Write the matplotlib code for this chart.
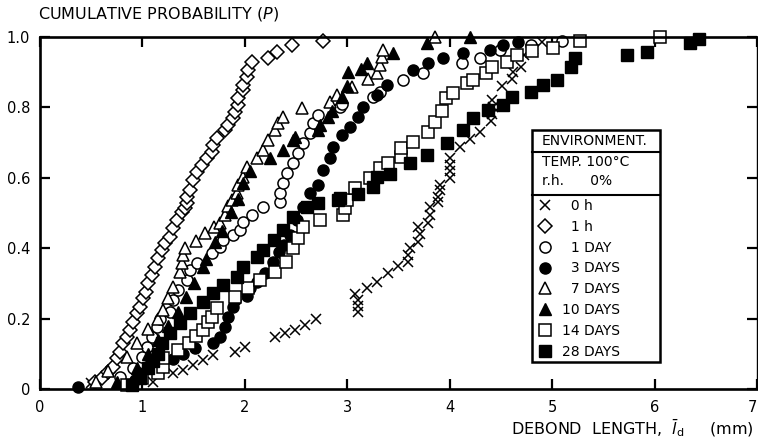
import matplotlib
matplotlib.use("Agg")
import matplotlib.pyplot as plt
from matplotlib.patches import Rectangle
from matplotlib.lines import Line2D

# ---------------- data ----------------
x_0h = [0.50, 1.10, 1.30, 1.40, 1.49, 1.59, 1.69, 1.90, 2.00, 2.29, 2.39, 2.49, 2.59, 2.69,
        3.10, 3.10, 3.10, 3.08, 3.19, 3.29, 3.40, 3.50, 3.59, 3.59, 3.61, 3.69, 3.71, 3.69,
        3.79, 3.81, 3.81, 3.89, 3.89, 3.91, 3.91, 4.00, 4.00, 4.00, 4.00, 4.10, 4.20, 4.30,
        4.40, 4.41, 4.42, 4.41, 4.51, 4.61, 4.62, 4.70, 4.73, 4.81, 4.90]
y_0h = [0.017, 0.02, 0.045, 0.054, 0.068, 0.082, 0.097, 0.105, 0.12, 0.148, 0.159, 0.168, 0.182, 0.20,
        0.22, 0.235, 0.253, 0.27, 0.287, 0.304, 0.33, 0.35, 0.361, 0.38, 0.40, 0.418, 0.44, 0.46,
        0.472, 0.494, 0.517, 0.531, 0.545, 0.565, 0.58, 0.60, 0.62, 0.636, 0.656, 0.688, 0.71, 0.73,
        0.76, 0.78, 0.80, 0.82, 0.86, 0.88, 0.90, 0.915, 0.95, 0.965, 0.985]

x_1h = [0.54, 0.61, 0.66, 0.71, 0.75, 0.78, 0.81, 0.85, 0.88, 0.91, 0.95, 0.98, 1.01, 1.03, 1.05,
        1.09, 1.12, 1.15, 1.19, 1.22, 1.27, 1.30, 1.34, 1.39, 1.42, 1.44, 1.44, 1.46, 1.49, 1.53,
        1.58, 1.63, 1.68, 1.69, 1.73, 1.81, 1.84, 1.88, 1.90, 1.93, 1.93, 1.98, 1.98, 2.02, 2.03,
        2.07, 2.23, 2.31, 2.46, 2.76]
y_1h = [0.02, 0.031, 0.048, 0.063, 0.088, 0.105, 0.131, 0.148, 0.168, 0.19, 0.216, 0.233, 0.259, 0.276, 0.301,
        0.324, 0.347, 0.372, 0.395, 0.415, 0.432, 0.457, 0.48, 0.503, 0.515, 0.528, 0.545, 0.565, 0.594, 0.616,
        0.636, 0.656, 0.673, 0.693, 0.713, 0.736, 0.75, 0.77, 0.787, 0.807, 0.827, 0.849, 0.864, 0.886, 0.906,
        0.929, 0.94, 0.957, 0.977, 0.99]

x_1d = [0.78, 0.91, 1.00, 1.04, 1.09, 1.14, 1.17, 1.27, 1.30, 1.35, 1.44, 1.46, 1.53, 1.68, 1.76,
        1.79, 1.88, 1.95, 1.98, 2.07, 2.18, 2.34, 2.34, 2.37, 2.41, 2.47, 2.52, 2.57, 2.64, 2.67,
        2.71, 2.93, 2.95, 3.25, 3.32, 3.54, 3.74, 4.12, 4.30, 4.49, 4.79, 5.10]
y_1d = [0.034, 0.06, 0.091, 0.119, 0.148, 0.176, 0.20, 0.219, 0.253, 0.281, 0.31, 0.338, 0.358, 0.386, 0.403,
        0.423, 0.437, 0.452, 0.474, 0.494, 0.517, 0.531, 0.557, 0.585, 0.614, 0.642, 0.67, 0.699, 0.727, 0.756,
        0.778, 0.80, 0.81, 0.83, 0.844, 0.878, 0.898, 0.926, 0.94, 0.963, 0.977, 0.99]

x_3d = [0.37, 0.93, 0.97, 1.30, 1.40, 1.51, 1.69, 1.76, 1.81, 1.84, 1.88, 1.90, 2.02, 2.05, 2.12,
        2.20, 2.27, 2.33, 2.38, 2.44, 2.51, 2.57, 2.64, 2.71, 2.76, 2.83, 2.86, 2.95, 3.03, 3.10,
        3.15, 3.29, 3.39, 3.64, 3.79, 3.93, 4.13, 4.39, 4.52, 4.67]
y_3d = [0.006, 0.025, 0.045, 0.085, 0.10, 0.116, 0.13, 0.148, 0.176, 0.205, 0.233, 0.253, 0.265, 0.287, 0.304,
        0.33, 0.36, 0.39, 0.41, 0.437, 0.48, 0.517, 0.557, 0.58, 0.622, 0.656, 0.688, 0.722, 0.744, 0.773,
        0.80, 0.835, 0.864, 0.906, 0.926, 0.94, 0.955, 0.963, 0.977, 0.986]

x_7d = [0.55, 0.66, 0.85, 0.95, 1.05, 1.15, 1.20, 1.25, 1.30, 1.37, 1.39, 1.40, 1.42, 1.52, 1.61,
        1.70, 1.76, 1.81, 1.84, 1.87, 1.92, 1.93, 1.98, 2.02, 2.12, 2.18, 2.23, 2.29, 2.32, 2.37,
        2.56, 2.83, 2.90, 3.05, 3.20, 3.29, 3.32, 3.34, 3.35, 3.86]
y_7d = [0.02, 0.05, 0.09, 0.13, 0.17, 0.20, 0.224, 0.259, 0.29, 0.332, 0.358, 0.38, 0.40, 0.42, 0.443,
        0.46, 0.472, 0.494, 0.52, 0.537, 0.557, 0.58, 0.602, 0.63, 0.656, 0.68, 0.707, 0.736, 0.756, 0.773,
        0.798, 0.815, 0.835, 0.858, 0.88, 0.898, 0.92, 0.943, 0.963, 1.0]

x_10d = [0.75, 0.95, 1.05, 1.15, 1.25, 1.35, 1.43, 1.50, 1.59, 1.62, 1.71, 1.78, 1.86, 1.93, 1.98,
         2.05, 2.25, 2.37, 2.47, 2.49, 2.71, 2.73, 2.81, 2.85, 2.95, 3.00, 3.01, 3.13, 3.19, 3.45,
         3.78, 4.20]
y_10d = [0.02, 0.06, 0.10, 0.14, 0.18, 0.22, 0.26, 0.30, 0.347, 0.37, 0.418, 0.45, 0.503, 0.54, 0.585,
         0.62, 0.656, 0.68, 0.707, 0.716, 0.736, 0.75, 0.773, 0.79, 0.83, 0.86, 0.90, 0.91, 0.926, 0.955,
         0.983, 1.0]

x_14d = [0.85, 1.00, 1.15, 1.20, 1.20, 1.35, 1.45, 1.52, 1.59, 1.64, 1.68, 1.73, 1.90, 2.03, 2.15,
         2.29, 2.40, 2.47, 2.52, 2.57, 2.73, 2.96, 2.98, 3.00, 3.08, 3.22, 3.32, 3.40, 3.52, 3.52,
         3.64, 3.79, 3.86, 3.92, 3.96, 4.03, 4.17, 4.23, 4.35, 4.41, 4.56, 4.66, 4.80, 5.01, 5.27, 6.05]
y_14d = [0.01, 0.03, 0.045, 0.063, 0.088, 0.11, 0.13, 0.15, 0.168, 0.19, 0.205, 0.23, 0.26, 0.287, 0.31,
         0.332, 0.36, 0.40, 0.43, 0.46, 0.48, 0.494, 0.515, 0.537, 0.571, 0.60, 0.628, 0.642, 0.659, 0.685,
         0.702, 0.73, 0.759, 0.79, 0.827, 0.84, 0.87, 0.878, 0.898, 0.915, 0.929, 0.949, 0.96, 0.969, 0.99, 1.0]

x_28d = [0.90, 0.98, 1.05, 1.10, 1.15, 1.19, 1.27, 1.37, 1.46, 1.59, 1.69, 1.79, 1.92, 1.98, 2.12,
         2.18, 2.28, 2.37, 2.47, 2.61, 2.71, 2.91, 2.93, 3.10, 3.25, 3.29, 3.42, 3.61, 3.78, 3.97,
         4.13, 4.23, 4.37, 4.52, 4.61, 4.79, 4.91, 5.05, 5.18, 5.22, 5.73, 5.93, 6.35, 6.43]
y_28d = [0.01, 0.03, 0.06, 0.08, 0.10, 0.13, 0.159, 0.188, 0.216, 0.247, 0.273, 0.295, 0.318, 0.347, 0.375,
         0.395, 0.423, 0.452, 0.489, 0.517, 0.528, 0.537, 0.543, 0.555, 0.574, 0.602, 0.612, 0.642, 0.665, 0.699,
         0.736, 0.77, 0.793, 0.807, 0.83, 0.844, 0.864, 0.878, 0.915, 0.94, 0.949, 0.957, 0.983, 0.995]

labels = ["\u20070 h", "\u20071 h", "\u20071 DAY", "\u20073 DAYS", "\u20077 DAYS",
          "10 DAYS", "14 DAYS", "28 DAYS"]
header_lines = ["ENVIRONMENT.", "TEMP. 100\u00b0C", "r.h.      0%"]
x_ticks = [0, 1, 2, 3, 4, 5, 6, 7]
y_ticks = [0, 0.2, 0.4, 0.6, 0.8, 1.0]
y_tick_labels = ["0", "0.2", "0.4", "0.6", "0.8", "1.0"]

# ---------------- figure ----------------
plt.rcParams['font.family'] = ['DejaVu Sans']
W, H = 758, 443
fig = plt.figure(figsize=(W / 100, H / 100), dpi=100)
ax = fig.add_axes([40 / W, 1 - 389 / H, 717 / W, 352 / H])

K = 'black'
series = [
    (x_0h, y_0h, dict(marker='x', ms=7, mew=1.1, mec=K, mfc='none')),
    (x_1h, y_1h, dict(marker='D', ms=7.5, mew=1.1, mec=K, mfc='white')),
    (x_1d, y_1d, dict(marker='o', ms=8.0, mew=1.1, mec=K, mfc='white')),
    (x_3d, y_3d, dict(marker='o', ms=8.0, mew=1.0, mec=K, mfc=K)),
    (x_7d, y_7d, dict(marker='^', ms=8.4, mew=1.1, mec=K, mfc='white')),
    (x_10d, y_10d, dict(marker='^', ms=8.4, mew=1.0, mec=K, mfc=K)),
    (x_14d, y_14d, dict(marker='s', ms=8.0, mew=1.1, mec=K, mfc='white')),
    (x_28d, y_28d, dict(marker='s', ms=8.0, mew=1.0, mec=K, mfc=K)),
]
handles = []
for (xs, ys, st), lab in zip(series, labels):
    h, = ax.plot(xs, ys, linestyle='none', label=lab, clip_on=False, **st)
    handles.append(h)

ax.set_xlim(0, 7)
ax.set_ylim(0, 1.0)
ax.set_xticks(x_ticks)
ax.set_xticklabels([str(t) for t in x_ticks])
ax.set_yticks(y_ticks)
ax.set_yticklabels(y_tick_labels)
ax.tick_params(direction='in', length=7, width=1.6, top=True, right=True,
               labelsize=10.5, colors=K)
ax.tick_params(axis='x', pad=8)
ax.tick_params(axis='y', pad=7)
ax.get_xticklabels()[-1].set_horizontalalignment('right')
for side in ['left', 'bottom', 'top']:
    ax.spines[side].set_linewidth(1.9)
ax.spines['right'].set_linewidth(1.0)

# titles
fig.text(38 / W, 1 - 14 / H, r"CUMULATIVE PROBABILITY ($\mathit{P}$)", ha='left', va='center',
         fontsize=11.5)
fig.text(754 / W, 1 - 428 / H, r"DEBOND  LENGTH,  $\bar{l}_{\mathrm{d}}$     (mm)", ha='right',
         va='center', fontsize=11.5)

# legend box
bx0, bx1 = (532 - 40) / 717, (660 - 40) / 717
by0, by1 = (389 - 362) / 352, (389 - 130) / 352
ax.add_patch(Rectangle((bx0, by0), bx1 - bx0, by1 - by0, transform=ax.transAxes,
                       fill=True, facecolor='white', edgecolor=K, lw=1.8, zorder=5))
for yl in [(389 - 152) / 352, (389 - 195) / 352]:
    ax.add_line(Line2D([bx0, bx1], [yl, yl], transform=ax.transAxes, color=K, lw=1.5, zorder=6))
hdr_y = [141, 162, 181]
for txt, yy in zip(header_lines, hdr_y):
    ax.text((542 - 40) / 717, (389 - yy) / 352, txt, transform=ax.transAxes, ha='left',
            va='center', fontsize=10, zorder=7)

leg = ax.legend(handles=handles, loc='upper left',
                bbox_to_anchor=((538 - 40) / 717, (389 - 199) / 352),
                frameon=False, fontsize=10, handlelength=1.0, handletextpad=0.7,
                labelspacing=0.49, borderpad=0.0, borderaxespad=0.0, numpoints=1)
leg.set_zorder(8)

fig.savefig("out.png", dpi=100)
